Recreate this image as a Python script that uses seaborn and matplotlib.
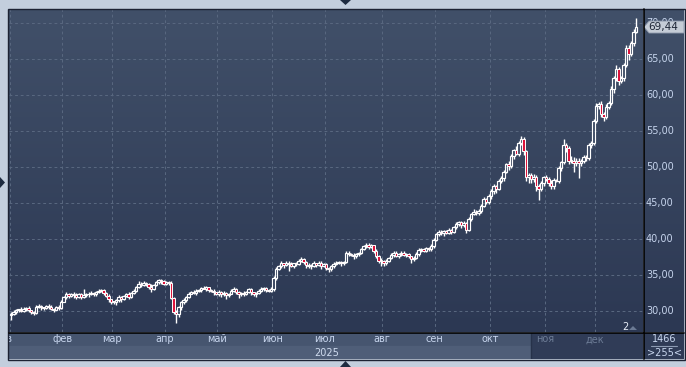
import numpy as np
import matplotlib
matplotlib.use("Agg")
import matplotlib.pyplot as plt
import seaborn as sns
from matplotlib.colors import LinearSegmentedColormap
from matplotlib.patches import Polygon, Rectangle
from matplotlib.lines import Line2D

# ---- data (daily candles, 2025) ----
months = ["янв", "фев", "мар", "апр", "май", "июн", "июл", "авг", "сен", "окт", "ноя", "дек"]
month_len = [21, 20, 21, 21, 22, 21, 23, 21, 22, 22, 20, 17]
year_label = "2025"
last_price = 69.44
first_open = 29.4

close_jan = [29.6, 29.9, 30.1, 30.2, 30.0, 30.3, 30.4, 30.1, 29.8, 29.7, 30.6, 30.7, 30.5, 30.4, 30.7, 30.6, 30.3, 30.2, 30.5, 30.4, 31.3]
close_feb = [31.9, 32.3, 32.1, 32.4, 32.2, 31.9, 32.3, 32.0, 32.2, 32.4, 32.3, 32.5, 32.3, 32.6, 32.8, 32.9, 32.5, 32.1, 31.6, 31.3]
close_mar = [31.2, 31.5, 31.9, 31.7, 32.1, 32.3, 32.0, 32.5, 32.8, 33.4, 33.8, 33.6, 33.9, 33.7, 33.4, 33.1, 33.6, 34.0, 34.3, 34.1, 33.8]
close_apr = [34.0, 33.9, 31.8, 29.9, 29.6, 30.5, 31.2, 31.5, 32.0, 32.4, 32.6, 32.5, 32.8, 32.9, 33.2, 33.1, 33.3, 32.9, 32.8, 32.6, 32.4]
close_may = [32.7, 32.3, 32.5, 32.2, 32.4, 32.8, 33.1, 32.6, 32.3, 32.5, 32.4, 32.7, 33.0, 32.6, 32.4, 32.5, 32.8, 33.1, 33.2, 32.9, 32.8, 33.0]
close_jun = [34.6, 35.9, 36.2, 36.6, 36.4, 36.7, 36.5, 36.3, 36.6, 36.5, 37.0, 37.2, 36.8, 36.4, 36.2, 36.3, 36.6, 36.4, 36.7, 36.3, 36.5]
close_jul = [36.0, 35.8, 36.2, 36.5, 36.7, 36.8, 36.6, 36.8, 38.1, 37.9, 37.8, 37.6, 37.9, 38.1, 38.6, 39.0, 39.2, 38.9, 39.1, 38.4, 37.6, 37.0, 36.9]
close_aug = [36.7, 37.0, 37.4, 37.8, 38.1, 37.7, 37.9, 38.1, 37.8, 37.9, 37.6, 37.2, 37.4, 37.9, 38.5, 38.6, 38.4, 38.7, 38.6, 39.0, 39.9]
close_sep = [40.7, 41.0, 40.8, 41.1, 40.9, 41.2, 41.0, 41.6, 42.1, 42.3, 41.9, 42.2, 41.3, 42.8, 43.5, 43.8, 43.6, 43.9, 44.6, 45.5, 45.2, 46.0]
close_oct = [46.6, 47.3, 47.0, 48.1, 48.5, 49.3, 50.4, 50.1, 51.5, 52.3, 51.8, 53.3, 53.9, 52.2, 48.6, 48.9, 48.3, 48.6, 47.4, 46.9, 47.8, 48.6]
close_nov = [48.4, 47.8, 47.3, 48.2, 48.1, 49.8, 50.7, 53.0, 52.6, 50.8, 50.9, 50.6, 50.9, 50.5, 50.9, 51.4, 51.3, 53.1, 53.4, 56.4]
close_dec = [58.5, 58.7, 57.3, 57.0, 58.4, 58.9, 60.8, 62.3, 63.6, 61.9, 62.3, 64.2, 66.5, 65.7, 67.2, 68.8, 69.44]

# upper / lower shadow lengths
up_jan = [0.2, 0.3, 0.2, 0.1, 0.3, 0.2, 0.2, 0.3, 0.1, 0.2, 0.2, 0.3, 0.2, 0.1, 0.2, 0.3, 0.2, 0.1, 0.2, 0.3, 0.2]
dn_jan = [0.6, 0.2, 0.3, 0.2, 0.1, 0.2, 0.3, 0.2, 0.2, 0.3, 0.1, 0.2, 0.3, 0.2, 0.1, 0.3, 0.2, 0.4, 0.1, 0.2, 0.1]
up_feb = [0.2, 0.3, 0.2, 0.1, 0.2, 0.3, 0.2, 0.2, 0.9, 0.1, 0.2, 0.3, 0.2, 0.2, 0.3, 0.2, 0.1, 0.2, 0.2, 0.1]
dn_feb = [0.1, 0.2, 0.3, 0.2, 0.4, 0.2, 0.1, 0.3, 0.2, 0.2, 0.3, 0.1, 0.2, 0.2, 0.1, 0.2, 0.3, 0.2, 0.3, 0.3]
up_mar = [0.1, 0.2, 0.3, 0.2, 0.1, 0.2, 0.3, 0.2, 0.2, 0.1, 0.3, 0.2, 0.2, 0.1, 0.2, 0.3, 0.2, 0.2, 0.2, 0.1, 0.2]
dn_mar = [0.2, 0.3, 0.2, 0.4, 0.2, 0.1, 0.3, 0.2, 0.1, 0.2, 0.2, 0.3, 0.1, 0.2, 0.3, 0.4, 0.2, 0.1, 0.2, 0.3, 0.2]
up_apr = [0.2, 0.1, 0.2, 0.1, 0.3, 0.2, 0.2, 0.3, 0.1, 0.2, 0.2, 0.3, 0.2, 0.1, 0.2, 0.3, 0.2, 0.1, 0.2, 0.2, 0.1]
dn_apr = [0.2, 0.3, 0.2, 0.3, 1.3, 0.4, 0.3, 0.2, 0.3, 0.2, 0.1, 0.2, 0.3, 0.2, 0.2, 0.1, 0.3, 0.2, 0.2, 0.4, 0.2]
up_may = [0.2, 0.1, 0.3, 0.2, 0.1, 0.2, 0.3, 0.1, 0.2, 0.2, 0.3, 0.1, 0.2, 0.2, 0.1, 0.2, 0.3, 0.2, 0.1, 0.2, 0.2, 0.3]
dn_may = [0.3, 0.4, 0.2, 0.5, 0.2, 0.1, 0.2, 0.3, 0.5, 0.2, 0.3, 0.2, 0.2, 0.4, 0.3, 0.5, 0.2, 0.2, 0.3, 0.2, 0.1, 0.2]
up_jun = [0.3, 0.2, 0.2, 0.3, 0.1, 0.2, 0.2, 0.3, 0.1, 0.2, 0.2, 0.3, 0.2, 0.1, 0.2, 0.2, 0.3, 0.1, 0.2, 0.2, 0.1]
dn_jun = [0.2, 0.3, 0.2, 0.2, 0.4, 0.2, 0.9, 0.2, 0.3, 0.2, 0.1, 0.2, 0.3, 0.4, 0.2, 0.3, 0.2, 0.3, 0.2, 0.4, 0.2]
up_jul = [0.2, 0.1, 0.2, 0.3, 0.2, 0.1, 0.2, 0.2, 0.3, 0.2, 0.1, 0.2, 0.2, 0.1, 0.2, 0.2, 0.3, 0.2, 0.2, 0.1, 0.2, 0.2, 0.3]
dn_jul = [0.3, 0.4, 0.2, 0.2, 0.1, 0.2, 0.3, 0.2, 0.2, 0.3, 0.2, 0.4, 0.2, 0.3, 0.2, 0.1, 0.2, 0.3, 0.2, 0.3, 0.2, 0.3, 0.6]
up_aug = [0.2, 0.2, 0.1, 0.3, 0.2, 0.2, 0.1, 0.2, 0.3, 0.2, 0.2, 0.1, 0.2, 0.3, 0.2, 0.2, 0.1, 0.2, 0.2, 0.3, 0.2]
dn_aug = [0.5, 0.3, 0.2, 0.2, 0.3, 0.2, 0.4, 0.2, 0.2, 0.3, 0.2, 0.6, 0.3, 0.2, 0.2, 0.3, 0.2, 0.2, 0.3, 0.2, 0.2]
up_sep = [0.2, 0.2, 0.3, 0.2, 0.1, 0.3, 0.2, 0.2, 0.3, 0.2, 0.2, 0.3, 0.2, 0.2, 0.1, 0.3, 0.2, 0.2, 0.3, 0.4, 0.2, 0.3]
dn_sep = [0.2, 0.3, 0.2, 0.4, 0.2, 0.2, 0.3, 0.2, 0.2, 0.3, 0.4, 0.2, 0.5, 0.2, 0.3, 0.2, 0.3, 0.2, 0.3, 0.2, 0.4, 0.3]
up_oct = [0.3, 0.4, 0.2, 0.3, 0.2, 0.3, 0.2, 0.5, 0.3, 0.2, 0.6, 0.3, 0.4, 0.3, 0.2, 0.3, 0.2, 0.4, 0.3, 0.2, 0.3, 0.2]
dn_oct = [0.4, 0.3, 0.6, 0.2, 0.3, 0.4, 0.2, 0.5, 0.3, 0.4, 0.2, 0.3, 0.3, 0.5, 0.6, 0.8, 0.5, 0.4, 0.7, 1.5, 0.3, 0.4]
up_nov = [0.3, 0.2, 0.4, 0.3, 0.2, 0.3, 0.2, 0.9, 0.4, 0.3, 0.6, 0.5, 0.3, 0.4, 0.2, 0.3, 0.2, 0.3, 0.2, 0.3]
dn_nov = [0.3, 0.5, 0.3, 0.4, 0.2, 0.3, 0.4, 0.3, 0.5, 0.4, 0.3, 1.3, 0.5, 2.0, 0.4, 0.3, 0.5, 0.3, 0.4, 0.3]
up_dec = [0.4, 0.3, 0.5, 0.3, 0.4, 0.3, 0.4, 0.3, 0.5, 0.3, 0.4, 0.3, 0.4, 0.5, 0.3, 0.3, 1.3]
dn_dec = [0.3, 0.5, 0.4, 0.6, 0.3, 0.4, 0.3, 0.5, 0.4, 0.5, 0.3, 0.4, 0.3, 0.8, 0.3, 0.4, 0.2]

closes = np.array(close_jan + close_feb + close_mar + close_apr + close_may + close_jun
                  + close_jul + close_aug + close_sep + close_oct + close_nov + close_dec)
wick_up = np.array(up_jan + up_feb + up_mar + up_apr + up_may + up_jun
                   + up_jul + up_aug + up_sep + up_oct + up_nov + up_dec)
wick_dn = np.array(dn_jan + dn_feb + dn_mar + dn_apr + dn_may + dn_jun
                   + dn_jul + dn_aug + dn_sep + dn_oct + dn_nov + dn_dec)
opens = np.concatenate([[first_open], closes[:-1]])
n = len(closes)
idx = np.arange(n)
starts = np.concatenate([[0], np.cumsum(month_len)[:-1]])

# ---- layout helpers (pixels) ----
W, H = 686, 367
PX0, PSTEP = 11, 2.5          # pixel of first candle, pixels per candle
Y30, PPU = 311, 7.2           # pixel of 30.00, pixels per price unit

def box(x0, y0, x1, y1):
    return [x0 / W, 1 - y1 / H, (x1 - x0) / W, (y1 - y0) / H]

def fp(x, y):
    return (x / W, 1 - y / H)

def px2i(x):
    return (x - PX0) / PSTEP

def py2v(y):
    return 30 + (Y30 - y) / PPU

sns.set_theme(style="dark")
plt.rcParams["font.family"] = ["DejaVu Sans"]

bg = LinearSegmentedColormap.from_list("bg", ["#415069", "#2c3853"])
grad = np.linspace(0, 1, 256)[:, None]

fig = plt.figure(figsize=(W / 100, H / 100), dpi=100, facecolor="#c3cedd")

# main chart
ax = fig.add_axes(box(9, 9, 643, 332))
ax.imshow(grad, cmap=bg, aspect="auto", extent=[0, 1, 0, 1], transform=ax.transAxes, zorder=0)
ax.set_xlim(px2i(9), px2i(643))
ax.set_ylim(py2v(332), py2v(9))
ax.set_xticks(starts - 0.5)
ax.set_yticks(range(30, 71, 5))
ax.tick_params(length=0, labelbottom=False, labelleft=False)
ax.set_axisbelow(True)
ax.grid(True, color="#58677f", linestyle=(0, (2.7, 2.7)), linewidth=0.75)
for s in ax.spines.values():
    s.set_visible(False)

up = closes >= opens
body_lo = np.minimum(opens, closes)
body_hi = np.maximum(opens, closes)
highs = body_hi + wick_up
lows = body_lo - wick_dn
heights = np.maximum(body_hi - body_lo, 0.12)

ax.vlines(idx, body_hi, highs, color="white", linewidth=1.0, zorder=2)
ax.vlines(idx, lows, body_lo, color="white", linewidth=1.0, zorder=2)
ax.bar(idx[up], heights[up], bottom=body_lo[up], width=0.85, facecolor="none",
       edgecolor="white", linewidth=0.85, zorder=3)
ax.bar(idx[~up], heights[~up], bottom=body_lo[~up], width=0.85, facecolor="#dc143c",
       edgecolor="white", linewidth=0.7, zorder=3)

# right price scale
axr = fig.add_axes(box(644, 9, 684, 332))
axr.imshow(grad, cmap=bg, aspect="auto", extent=[0, 1, 0, 1], transform=axr.transAxes, zorder=0)
axr.set_xlim(0, 40)
axr.set_ylim(py2v(332), py2v(9))
axr.set_xticks([])
axr.set_yticks([])
for s in axr.spines.values():
    s.set_visible(False)
for v in range(30, 71, 5):
    axr.text(2, v, f"{v},00", ha="left", va="center", color="#c6d4ec", fontsize=7)

# bottom time scale
axb = fig.add_axes(box(9, 333, 643, 359))
axb.set_xlim(px2i(9), px2i(643))
axb.set_ylim(0, 26)
axb.set_xticks([])
axb.set_yticks([])
for s in axb.spines.values():
    s.set_visible(False)
axb.axhspan(13, 26, color="#46556f", zorder=0)
axb.axhspan(0, 13, color="#4f5e78", zorder=0)
axb.add_patch(Rectangle((px2i(531), 0), px2i(643) - px2i(531), 26,
                        facecolor="#303c57", edgecolor="none", zorder=1))
axb.axvline(px2i(531), color="#27324a", linewidth=1, zorder=2)
label_x = list(starts - 0.5)
label_x[0] = px2i(3)
for m, x in zip(months, label_x):
    col = "#6d7c96" if x > px2i(531) else "#c8d6ee"
    axb.text(x, 19.5, m, ha="center", va="center", color=col, fontsize=7, clip_on=True, zorder=3)
axb.text(px2i(327), 6.5, year_label, ha="center", va="center", color="#d0dcef", fontsize=7, zorder=3)

# corner box
axc = fig.add_axes(box(644, 333, 684, 359))
axc.set_facecolor("#2f3b56")
axc.set_xlim(0, 40)
axc.set_ylim(0, 26)
axc.set_xticks([])
axc.set_yticks([])
for s in axc.spines.values():
    s.set_visible(False)
axc.text(20, 19.5, "1466", ha="center", va="center", color="#c8d6ee", fontsize=7)
axc.plot([7, 33], [13, 13], color="#8c9ab2", linewidth=0.8)
axc.text(20, 6, ">255<", ha="center", va="center", color="#c8d6ee", fontsize=7)

# separators and border
fig.add_artist(Line2D([fp(643.5, 0)[0]] * 2, [fp(0, 9)[1], fp(0, 359)[1]], color="black", linewidth=1.2))
fig.add_artist(Line2D([fp(9, 0)[0], fp(684, 0)[0]], [fp(0, 332.5)[1]] * 2, color="black", linewidth=1.2))
fig.add_artist(Rectangle(fp(8, 359.5), 676.5 / W, 351 / H, transform=fig.transFigure,
                         fill=False, edgecolor="#1c2233", linewidth=1))

# last price tag
tag_y = Y30 - (last_price - 30) * PPU
tag = [fp(644, tag_y), fp(649, tag_y - 6), fp(684, tag_y - 6), fp(684, tag_y + 6), fp(649, tag_y + 6)]
fig.add_artist(Polygon(tag, closed=True, transform=fig.transFigure,
                       facecolor="#c5ccd6", edgecolor="#8a95a8", linewidth=0.6))
fig.text(*fp(648, tag_y), f"{last_price:.2f}".replace(".", ","), ha="left", va="center",
         color="#1d2535", fontsize=7.5)

# small markers
fig.text(*fp(625, 327), "2", ha="center", va="center", color="#e8eef8", fontsize=7)
fig.add_artist(Polygon([fp(629, 330), fp(637, 330), fp(633, 326)], closed=True,
                       transform=fig.transFigure, facecolor="#6b7a94", edgecolor="none"))
fig.add_artist(Polygon([fp(340, 0), fp(351, 0), fp(345.5, 5)], closed=True,
                       transform=fig.transFigure, facecolor="#1e2b40", edgecolor="none"))
fig.add_artist(Polygon([fp(340, 367), fp(351, 367), fp(345.5, 361)], closed=True,
                       transform=fig.transFigure, facecolor="#1e2b40", edgecolor="none"))
fig.add_artist(Polygon([fp(0, 177), fp(0, 188), fp(5, 182.5)], closed=True,
                       transform=fig.transFigure, facecolor="#1e2b40", edgecolor="none"))

fig.savefig("out.png", dpi=100, facecolor=fig.get_facecolor())
